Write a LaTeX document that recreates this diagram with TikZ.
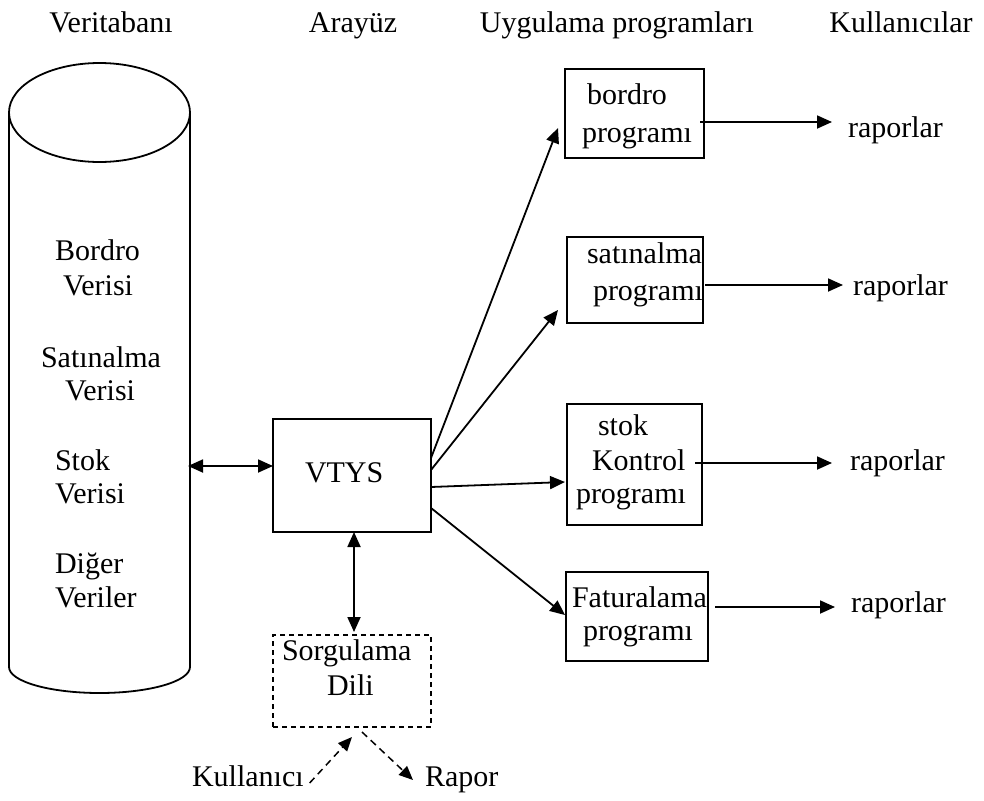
\documentclass[tikz,border=0pt]{standalone}
\usepackage{fontspec}
\setmainfont{Liberation Serif}
\usetikzlibrary{arrows.meta}
\begin{document}
\begin{tikzpicture}[x=1pt,y=-1pt,
  line width=1.8pt,
  txt/.style={inner sep=0pt,outer sep=0pt,anchor=base west,font=\fontsize{30pt}{35pt}\selectfont},
  hdr/.style={inner sep=0pt,outer sep=0pt,anchor=base,font=\fontsize{30pt}{35pt}\selectfont},
  boxn/.style={draw,rectangle,inner sep=0pt,outer sep=0pt},
  dbox/.style={boxn,dash pattern=on 5pt off 4pt},
  arr/.style={-{Triangle[length=15pt,width=13pt]}},
  dbl/.style={{Triangle[length=15pt,width=13pt]}-{Triangle[length=15pt,width=13pt]}},
  darr/.style={-{Triangle[length=14pt,width=12pt]},dash pattern=on 7pt off 5pt,line width=1.5pt}
]
\useasboundingbox (0,0) rectangle (984,800);

% headers
\node[hdr] (h1) at (111,33) {Veritabanı};
\node[hdr] (h2) at (353,33) {Arayüz};
\node[hdr] (h3) at (617,33) {Uygulama programları};
\node[hdr] (h4) at (901,33) {Kullanıcılar};

% cylinder
\draw (99.5,112.5) ellipse [x radius=90.5pt, y radius=49.5pt];
\draw (9,112.5) -- (9,667) arc[start angle=180,end angle=360,x radius=90.5pt,y radius=26pt] -- (190,112.5);
\coordinate (cylR) at (188,466);

\node[txt] (d1a) at (55,260) {Bordro};
\node[txt] (d1b) at (63,295) {Verisi};
\node[txt] (d2a) at (41,367) {Satınalma};
\node[txt] (d2b) at (65,400) {Verisi};
\node[txt] (d3a) at (55,470) {Stok};
\node[txt] (d3b) at (55,503) {Verisi};
\node[txt] (d4a) at (55,573) {Diğer};
\node[txt] (d4b) at (55,607) {Veriler};

% VTYS and query language
\node[boxn,minimum width=158pt,minimum height=113pt] (vtys) at (352,475.5) {};
\node[txt] (vtyst) at (305,482) {VTYS};
\node[dbox,minimum width=158pt,minimum height=92pt] (sorg) at (352,681) {};
\node[txt] (sorga) at (282,660) {Sorgulama};
\node[txt] (sorgb) at (327,695) {Dili};
\node[txt] (kul) at (192,786) {Kullanıcı};
\node[txt] (rap) at (425,786) {Rapor};

% application boxes
\node[boxn,minimum width=139pt,minimum height=89pt] (b1) at (634.5,113.5) {};
\node[txt] (b1a) at (587,104) {bordro};
\node[txt] (b1b) at (582,142) {programı};
\node[boxn,minimum width=136pt,minimum height=86pt] (b2) at (635,280) {};
\node[txt] (b2a) at (587,263) {satınalma};
\node[txt] (b2b) at (593,300) {programı};
\node[boxn,minimum width=135pt,minimum height=121pt] (b3) at (634.5,464.5) {};
\node[txt] (b3a) at (598,435) {stok};
\node[txt] (b3b) at (592,470) {Kontrol};
\node[txt] (b3c) at (576,503) {programı};
\node[boxn,minimum width=142pt,minimum height=89pt] (b4) at (637,616.5) {};
\node[txt] (b4a) at (572,607) {Faturalama};
\node[txt] (b4b) at (583,640) {programı};

% reports
\node[txt] (r1) at (848,137) {raporlar};
\node[txt] (r2) at (853,295) {raporlar};
\node[txt] (r3) at (850,470) {raporlar};
\node[txt] (r4) at (851,612) {raporlar};

% connectors
\draw[dbl] (cylR) -- (cylR -| vtys.west);
\draw[dbl] ([xshift=2pt]vtys.south) -- ([xshift=2pt,yshift=3pt]sorg.north);

\draw[arr] ([yshift=17.5pt]vtys.east) -- ([xshift=-7pt,yshift=-14.5pt]b1.west);
\draw[arr] ([yshift=5.5pt]vtys.east) -- ([xshift=-9pt,yshift=-30pt]b2.west);
\draw[arr] ([yshift=-11.5pt]vtys.east) -- ([xshift=-2pt,yshift=-17.5pt]b3.west);
\draw[arr] ([yshift=-32.5pt]vtys.east) -- ([xshift=-1pt,yshift=1.5pt]b4.west);

\draw[arr] ([xshift=-4pt,yshift=-8.5pt]b1.east) -- ([xshift=-16pt,yshift=15pt]r1.base west);
\draw[arr] ([xshift=2pt,yshift=-5pt]b2.east) -- ([xshift=-10pt,yshift=10pt]r2.base west);
\draw[arr] ([xshift=-7pt,yshift=1.5pt]b3.east) -- ([xshift=-18pt,yshift=7pt]r3.base west);
\draw[arr] ([xshift=7pt,yshift=9.5pt]b4.east) -- ([xshift=-16pt,yshift=5pt]r4.base west);

\draw[darr] ([xshift=6pt,yshift=3pt]kul.base east) -- ([yshift=-10pt]sorg.south);
\draw[darr] ([xshift=10pt,yshift=-5pt]sorg.south) -- ([xshift=-12pt,yshift=6pt]rap.base west);
\end{tikzpicture}
\end{document}
